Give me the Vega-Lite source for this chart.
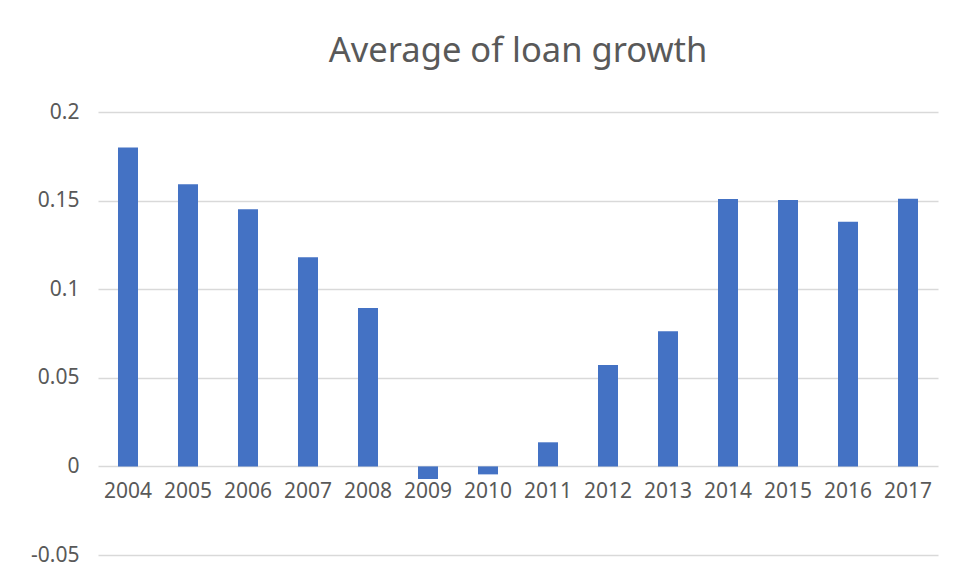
{
  "$schema": "https://vega.github.io/schema/vega-lite/v6.json",
  "autosize": "none",
  "width": 840,
  "height": 443,
  "padding": {"left": 98, "top": 112, "right": 17, "bottom": 24},
  "background": "white",
  "title": {
    "text": "Average of loan growth",
    "anchor": "middle",
    "frame": "group",
    "font": "Noto Sans",
    "fontSize": 34.5,
    "fontWeight": "normal",
    "color": "#595959",
    "baseline": "alphabetic",
    "offset": 5
  },
  "data": {
    "values": [
      {"year": "2004", "growth": 0.1800},
      {"year": "2005", "growth": 0.1592},
      {"year": "2006", "growth": 0.1451},
      {"year": "2007", "growth": 0.1180},
      {"year": "2008", "growth": 0.0894},
      {"year": "2009", "growth": -0.0071},
      {"year": "2010", "growth": -0.0045},
      {"year": "2011", "growth": 0.0136},
      {"year": "2012", "growth": 0.0572},
      {"year": "2013", "growth": 0.0762},
      {"year": "2014", "growth": 0.1509},
      {"year": "2015", "growth": 0.1503},
      {"year": "2016", "growth": 0.1381},
      {"year": "2017", "growth": 0.1511}
    ]
  },
  "mark": {"type": "bar", "color": "#4472C4"},
  "encoding": {
    "x": {
      "field": "year",
      "type": "nominal",
      "sort": null,
      "scale": {"paddingInner": 0.6667, "paddingOuter": 0.3333},
      "axis": {
        "title": null,
        "labelAngle": 0,
        "domain": false,
        "ticks": false,
        "grid": false,
        "offset": -88.6,
        "labelPadding": 14,
        "labelFont": "Noto Sans",
        "labelFontSize": 21,
        "labelColor": "#595959"
      }
    },
    "y": {
      "field": "growth",
      "type": "quantitative",
      "scale": {"domain": [-0.05, 0.2], "nice": false, "zero": false},
      "axis": {
        "title": null,
        "values": [-0.05, 0, 0.05, 0.1, 0.15, 0.2],
        "labelExpr": "'' + datum.value",
        "domain": false,
        "ticks": false,
        "grid": true,
        "gridColor": "#D9D9D9",
        "gridWidth": 1.3,
        "labelPadding": 19,
        "labelFont": "Noto Sans",
        "labelFontSize": 21,
        "labelColor": "#595959"
      }
    }
  },
  "config": {
    "view": {"stroke": null}
  }
}
